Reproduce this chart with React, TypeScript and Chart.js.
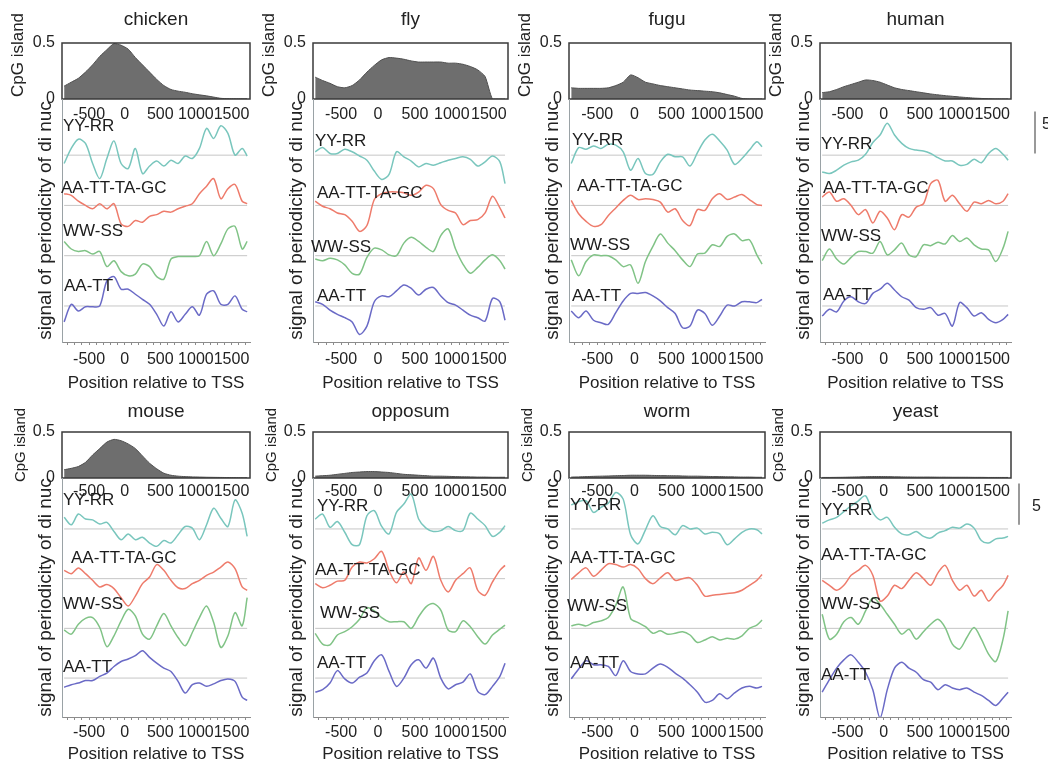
import React, { useEffect, useRef } from "react";
import { Chart, registerables } from "chart.js";

Chart.register(...registerables);

// ---------------- DATA ----------------
const POSITIONS = [-850, -750, -650, -550, -450, -350, -250, -150, -50, 50, 150, 250, 350, 450, 550, 650, 750, 850, 950, 1050, 1150, 1250, 1350, 1450, 1550, 1650, 1720];
const X_TICK_LABELS = [-500, 0, 500, 1000, 1500];
const CPG_TICKS = [0, 0.5];
const SERIES_NAMES = ["YY-RR", "AA-TT-TA-GC", "WW-SS", "AA-TT"];
const SERIES_OFFSETS = [18, 12, 6, 0];
const SPECIES = ["chicken", "fly", "fugu", "human", "mouse", "opposum", "worm", "yeast"];

const CPG_CHICKEN = [0.115, 0.15, 0.185, 0.24, 0.305, 0.38, 0.44, 0.495, 0.48, 0.445, 0.37, 0.305, 0.24, 0.175, 0.12, 0.085, 0.07, 0.06, 0.047, 0.037, 0.028, 0.017, 0.006, 0.003, 0.002, 0.002, 0.002];
const CPG_FLY = [0.195, 0.165, 0.14, 0.11, 0.1, 0.12, 0.17, 0.24, 0.3, 0.35, 0.37, 0.365, 0.355, 0.34, 0.33, 0.33, 0.33, 0.33, 0.32, 0.32, 0.31, 0.29, 0.26, 0.2, 0, 0, 0];
const CPG_FUGU = [0.1, 0.095, 0.095, 0.095, 0.095, 0.1, 0.12, 0.15, 0.215, 0.19, 0.15, 0.135, 0.12, 0.11, 0.1, 0.09, 0.08, 0.075, 0.07, 0.065, 0.055, 0.04, 0.025, 0.005, 0, 0, 0];
const CPG_HUMAN = [0.057, 0.065, 0.085, 0.11, 0.13, 0.15, 0.17, 0.165, 0.15, 0.125, 0.1, 0.085, 0.075, 0.065, 0.055, 0.045, 0.037, 0.03, 0.024, 0.018, 0.013, 0.008, 0.005, 0.002, 0, 0, 0];
const CPG_MOUSE = [0.09, 0.105, 0.125, 0.17, 0.25, 0.32, 0.39, 0.42, 0.405, 0.37, 0.32, 0.24, 0.16, 0.1, 0.052, 0.03, 0.02, 0.015, 0.012, 0.01, 0.008, 0.007, 0.006, 0.005, 0.004, 0.003, 0.003];
const CPG_OPPOSUM = [0.02, 0.025, 0.03, 0.04, 0.05, 0.06, 0.065, 0.07, 0.07, 0.065, 0.06, 0.05, 0.04, 0.035, 0.03, 0.025, 0.02, 0.02, 0.018, 0.015, 0.013, 0.012, 0.01, 0.01, 0.008, 0.008, 0.008];
const CPG_WORM = [0.01, 0.012, 0.015, 0.018, 0.02, 0.022, 0.025, 0.027, 0.03, 0.03, 0.03, 0.028, 0.026, 0.025, 0.024, 0.022, 0.02, 0.02, 0.018, 0.016, 0.015, 0.013, 0.012, 0.01, 0.01, 0.008, 0.008];
const CPG_YEAST = [0.006, 0.006, 0.007, 0.008, 0.01, 0.012, 0.014, 0.016, 0.016, 0.015, 0.013, 0.012, 0.011, 0.01, 0.01, 0.01, 0.009, 0.009, 0.008, 0.008, 0.008, 0.007, 0.007, 0.006, 0.006, 0.006, 0.006];

const CHICKEN_YYRR = [-1.0, 0.8, 1.9, 1.4, -1.0, -2.8, -0.4, 1.7, -1.0, -1.6, 0.8, -2.2, -1.3, -0.7, -1.3, -0.6, -1.0, -0.1, -0.4, 0.8, 3.2, 2.0, 3.5, 2.6, 0, 0.8, -0.1];
const CHICKEN_AATTTAGC = [1.4, 1.2, 0.5, 0, -0.4, 0.2, -0.4, 0.2, -2.2, -2.5, -1.8, -2.0, -1.3, -1.1, -0.7, -0.8, -0.4, -0.1, 0.2, 1.4, 2.3, 3.2, 0.8, 2.0, 2.5, 0.5, 0.2];
const CHICKEN_WWSS = [1.7, 0.8, 0.5, 0.6, 0.2, 0.5, -1.3, -0.6, -1.9, -2.4, -2.2, -1.0, -1.3, -2.5, -2.8, -0.4, -0.1, -0.1, -0.1, 0, 1.7, 0, 1.4, 3.2, 3.5, 0.8, 1.7];
const CHICKEN_AATT = [-1.9, 0.2, -0.6, -0.1, -0.1, 0, 3.0, 3.5, 2.0, 2.0, 1.4, 0.8, 0.2, -1.0, -2.4, -0.7, -1.9, -1.0, -0.1, -1.1, 1.4, 1.8, 0.2, 0.2, 1.2, -0.4, -0.7];

const FLY_YYRR = [0.4, 0.9, 0.2, 0.2, 0.7, 0.4, -0.1, -0.6, -1.9, -2.9, -2.3, 0.4, -0.2, -0.7, -1.4, -1.0, -1.2, -0.9, -0.6, -0.4, -0.2, -0.5, -1.3, -0.8, -0.1, -0.8, -3.4];
const FLY_AATTTAGC = [0.5, -0.1, -0.4, -0.9, -1.1, -1.9, -3.1, -2.4, 0.7, 1.4, 1.6, 1.6, 1.5, 1.2, 1.6, 2.4, 2.0, 0.1, -0.6, -0.9, -2.3, -1.8, -1.7, -0.9, 1.1, -0.3, -1.5];
const FLY_WWSS = [-0.4, -0.6, -0.3, -0.5, -1.1, -2.1, -2.2, -0.2, 0.9, 0.7, 0.1, 0, 1.5, 2.2, 1.7, 1.0, 0.5, 2.4, 3.2, 0.8, -1.0, -2.1, -1.4, -0.5, 0.1, -0.6, -1.6];
const FLY_AATT = [0.5, 0.2, -0.5, -1.0, -1.4, -1.9, -3.4, -2.4, 0.5, 1.2, 1.1, 1.8, 2.5, 2.1, 1.3, 2.0, 2.2, 1.2, 0.4, 0.1, -0.5, -1.1, -1.4, -1.8, 0.9, 0.5, -1.7];

const FUGU_YYRR = [-1.0, 0.9, 0.7, 1.1, 0.8, 1.3, 1.2, 0.4, -1.8, -0.4, -2.2, -2.3, -0.8, 0.1, -0.2, -0.2, -1.3, 0.3, 1.8, 2.5, 1.7, 0.6, -1.1, -0.4, 0.6, 1.6, 1.0];
const FUGU_AATTTAGC = [0.6, -1.0, -1.9, -2.5, -2.3, -1.2, -0.3, 0.6, 1.2, 0.7, 0.8, 0.7, 0.4, -0.8, -0.4, -1.8, -2.4, -0.5, -0.6, 0.8, 1.4, 0.7, 1.0, 1.3, 0.7, 0.1, 0];
const FUGU_WWSS = [-0.5, -2.4, -0.7, 0.1, 0, 0, -0.5, -1.3, -1.1, -3.3, -0.7, 1.1, 2.6, 1.5, 0.6, -0.5, -1.3, 0.2, 0.3, 1.3, 1.1, 2.3, 2.6, 1.8, 1.9, 0.1, -1.0];
const FUGU_AATT = [-0.6, -1.4, -0.6, -1.7, -2.0, -2.2, -0.8, 0.6, 1.5, 1.5, 1.6, 1.2, 0.6, -0.2, -0.9, -2.6, -2.4, -0.5, -0.9, -2.3, -1.2, 0.1, 0, 0.5, 0.5, 0.4, 0.8];

const HUMAN_YYRR = [-2.0, -2.2, -1.8, -1.2, -0.8, -0.6, 0.1, 1.5, 2.4, 3.8, 2.4, 1.4, 0.8, 0.6, 0.5, 0.2, -0.3, -0.7, -0.7, -1.2, -1.1, -0.5, -0.9, 0.2, 0.8, 0.1, -0.6];
const HUMAN_AATTTAGC = [1.0, 1.6, 0.5, 0.8, 0, -1.1, -0.5, -2.1, -0.7, -1.5, -2.9, -1.1, -1.4, -0.2, 0.2, 2.6, 3.0, 0.5, 1.2, 0.2, -0.7, 0.4, 0.2, 0.6, 0.2, 0.5, 1.4];
const HUMAN_WWSS = [-0.6, 0.8, -0.4, -1.0, -0.2, 0.5, 0.5, 0.3, 1.7, 0.1, 0.7, 1.5, 0.1, -0.1, 1.3, 1.2, 1.6, 1.4, 2.4, 1.7, 2.1, 1.3, 0.8, 0.7, -0.7, 0.9, 2.9];
const HUMAN_AATT = [-1.2, -0.4, -0.7, 0.6, 1.1, 0.5, 0.3, 1.5, 2.0, 2.7, 1.9, 1.1, 0.7, -0.2, -0.4, -0.2, -1.1, -0.9, -2.4, 0.4, -0.2, -1.2, -0.8, -1.6, -2.0, -1.6, -1.0];

const MOUSE_YYRR = [1.4, 0.5, 1.8, 1.2, 1.1, 0.6, 0.8, -0.3, -1.3, -0.6, -1.3, -1.0, -1.7, -2.1, -1.4, -1.7, -0.7, 0.3, 0.1, -1.3, 0.5, 2.5, 1.3, 0.3, 3.5, 1.9, -0.9];
const MOUSE_AATTTAGC = [1.0, 0.6, 1.3, 0.6, -0.2, -1.0, -0.7, -1.2, -2.3, -3.3, -2.1, -0.6, 0.2, 1.7, 1.0, -0.2, -1.1, -1.2, -0.6, -0.2, 0.4, 0.8, 1.4, 2.0, 1.2, -1.0, -1.4];
const MOUSE_WWSS = [-0.2, -0.7, 0.5, 1.2, 1.3, 0.1, -2.2, -0.9, 0.9, 2.3, 1.5, -0.7, -1.3, 0.3, 1.8, 0.3, -1.1, -2.1, -0.5, 1.3, 2.7, 0.7, -2.3, -0.9, 1.9, 0.3, 3.7];
const MOUSE_AATT = [-1.1, -0.8, -0.6, -0.3, -0.3, 0.2, 0.6, 1.4, 2.0, 2.3, 2.7, 3.3, 2.5, 1.8, 1.2, 0.8, -0.4, -1.8, -0.8, -0.6, -1.0, -0.7, -0.3, -0.1, -0.4, -2.3, -2.7];

const OPPOSUM_YYRR = [1.2, 1.8, 0.2, 0.9, -0.4, -1.9, -1.9, 1.6, 2.2, 0.3, -0.6, 2.0, 3.0, 4.2, 1.2, 0.1, -0.3, -0.2, 0.3, -0.2, -0.2, 1.9, 1.2, 0.4, -0.9, -0.4, 0.4];
const OPPOSUM_AATTTAGC = [-0.6, -1.1, -0.8, -0.3, -0.2, 1.4, 2.0, 1.9, 2.4, 3.3, 1.0, -0.5, 0.8, -0.6, 2.5, 1.0, 2.7, -0.2, -1.6, -0.2, 0.6, 1.3, -1.4, -2.0, -0.4, 1.0, 1.6];
const OPPOSUM_WWSS = [-0.6, -1.9, -2.0, -0.8, -0.4, 0.2, 1.1, 2.5, 2.1, 1.3, 0.8, 0.8, 0.8, 0, 1.4, 2.6, 3.0, 2.2, -0.2, -0.4, 0.9, 0.2, -1.0, -1.9, -0.8, -0.1, 0.4];
const OPPOSUM_AATT = [-1.7, -1.4, -0.6, 0.9, -0.1, -0.6, 0.1, 0.6, 2.1, 2.8, 0.8, -1.0, 0, 1.6, 2.2, 1.2, 2.4, 0, -1.3, -0.8, -0.5, 0.5, -1.6, -2.0, -1.0, 0.2, 1.8];

const WORM_YYRR = [2.9, 3.3, 3.4, 2.0, 2.6, 3.1, 4.4, 3.6, -0.7, -1.8, -0.1, 1.6, 0.3, 0, -0.7, 0.4, 0, 0.1, -0.6, -0.4, -0.6, -1.9, -1.2, -0.4, 0, -0.1, -0.6];
const WORM_AATTTAGC = [-0.1, 0.7, 1.3, 0.3, 1.0, 1.8, 1.7, 1.4, 1.7, 1.2, 0, -0.6, 0.1, 0.7, -0.2, 0, 0.1, -0.8, -2.1, -2.0, -1.9, -1.8, -1.7, -1.4, -0.8, -0.2, 0.5];
const WORM_WWSS = [0.3, 0.5, 0.3, 0.7, 0.9, 1.3, 2.8, 5.0, 1.2, 0.7, 0.2, -0.6, -0.3, -0.7, -0.6, -0.4, -0.8, -1.7, -1.4, -1.0, -1.4, -1.2, -1.3, -0.9, 0, 0.4, 1.0];
const WORM_AATT = [-0.1, 1.1, 2.1, 1.6, 1.6, 1.4, 0.3, 2.1, 0.8, 0.5, 0.5, 1.2, 1.7, 1.3, 0.6, 0, -0.8, -1.7, -2.9, -2.7, -1.9, -2.5, -1.8, -1.2, -1.0, -1.2, -1.0];

const YEAST_YYRR = [0.7, 1.1, 1.4, 2.1, 2.8, 3.4, 4.0, 2.0, 1.1, 1.4, 0.2, -0.6, -0.7, -0.3, -0.9, -1.1, -0.5, -0.2, 0.2, 0.1, 0.6, 0.1, -1.4, -1.7, -1.2, -1.1, -0.9];
const YEAST_AATTTAGC = [-0.2, -0.8, -1.4, -0.8, 0.4, 1.0, 1.6, 0.4, -2.7, -2.1, -0.8, -1.2, -0.2, 0.7, 0, -0.8, 0.7, 1.6, -0.2, -1.4, -0.8, -2.1, -1.4, -2.7, -1.7, -0.8, 0.4];
const YEAST_WWSS = [1.7, -1.3, -0.7, 0.8, 1.3, 0.5, 2.1, 3.7, 2.9, 1.7, 0.5, -0.7, -0.1, -1.3, -0.4, 0.5, 1.1, 0.1, -1.9, -2.5, -1.1, 0.1, -1.3, -3.1, -4.0, -1.3, 2.1];
const YEAST_AATT = [-1.7, -0.2, 1.2, 2.2, 2.8, 1.9, 0.7, -1.4, -4.8, -1.4, 1.2, 1.9, 1.2, 0.7, -0.2, -0.5, -1.4, -0.8, -1.2, -1.4, -1.2, -1.7, -2.1, -2.7, -3.3, -2.4, -1.7];

const CPG_BY_SPECIES = [CPG_CHICKEN, CPG_FLY, CPG_FUGU, CPG_HUMAN, CPG_MOUSE, CPG_OPPOSUM, CPG_WORM, CPG_YEAST];
const SIGNALS_BY_SPECIES = [
  [CHICKEN_YYRR, CHICKEN_AATTTAGC, CHICKEN_WWSS, CHICKEN_AATT],
  [FLY_YYRR, FLY_AATTTAGC, FLY_WWSS, FLY_AATT],
  [FUGU_YYRR, FUGU_AATTTAGC, FUGU_WWSS, FUGU_AATT],
  [HUMAN_YYRR, HUMAN_AATTTAGC, HUMAN_WWSS, HUMAN_AATT],
  [MOUSE_YYRR, MOUSE_AATTTAGC, MOUSE_WWSS, MOUSE_AATT],
  [OPPOSUM_YYRR, OPPOSUM_AATTTAGC, OPPOSUM_WWSS, OPPOSUM_AATT],
  [WORM_YYRR, WORM_AATTTAGC, WORM_WWSS, WORM_AATT],
  [YEAST_YYRR, YEAST_AATTTAGC, YEAST_WWSS, YEAST_AATT],
];
const SCALE_BAR_SIZE = 5;
const CPG_AXIS_TITLE = "CpG island";
const SIGNAL_AXIS_TITLE = "signal of periodicity of di nuc";
const X_AXIS_TITLE = "Position relative to TSS";

// ---------------- LAYOUT / STYLE ----------------
const FONT = '"Liberation Sans", Arial, Helvetica, sans-serif';
const TEXT = "#222";
const X_MIN = -880;
const X_MAX = 1760;
const MINOR_TICKS = Array.from({ length: 26 }, (_, i) => -800 + 100 * i);
const SERIES_COLORS = ["#79c6bd", "#ee7b6b", "#80c386", "#6a6ac6"];
const COL_LEFT = [62, 313, 569, 820];
const COL_WIDTH = [188, 195, 196, 191];
const Y_AXIS_W = 62;
const TOP_XAXIS_H = 30;
const ROWS = [
  { canvasTop: 0, titlePadTop: 8.6, titlePadBottom: 11.6, boxBottom: 99, topTickPad: 6.4, plotBottom: 342, yMin: -4.3, yMax: 24.7, bottomTickPad: 5.4, xAxisH: 54, xTitlePadBottom: 2, cpgDx: -44, cpgDy: -16, cpgSize: 17 },
  { canvasTop: 389, titlePadTop: 11.6, titlePadBottom: 8.6, boxBottom: 478, topTickPad: 4.4, plotBottom: 717, yMin: -4.7, yMax: 24.15, bottomTickPad: 3.4, xAxisH: 48, xTitlePadBottom: 0, cpgDx: -41, cpgDy: -10, cpgSize: 15 },
];
const LABEL_RISE = [
  [3.5, 2.0, 2.9, 2.3],
  [1.6, 1.4, 1.0, 1.1],
  [1.8, 2.3, 1.2, 1.1],
  [1.3, 2.0, 2.3, 1.3],
  [3.5, 2.5, 2.9, 1.3],
  [2.7, 1.0, 1.8, 1.8],
  [2.8, 2.5, 2.7, 1.8],
  [2.2, 2.8, 2.9, 0.3],
];
const LABEL_DX = [
  [0, -2, 0, 1],
  [1, 3, -3, 3],
  [2, 7, 0, 2],
  [0, 2, 0, 2],
  [0, 8, 0, 0],
  [3, 1, 6, 3],
  [0, 0, -3, 0],
  [0, 0, 0, 0],
];
const SCALE_BARS: Record<number, { dx: number; base: number; labelDx: number; labelDy: number }> = {
  3: { dx: 24, base: 18.2, labelDx: 7, labelDy: -8 },
  7: { dx: 8, base: 18.5, labelDx: 13, labelDy: 2 },
};

Chart.defaults.font.family = FONT;
Chart.defaults.color = TEXT;

function framePlugin(idx: number) {
  return {
    id: "frame",
    afterDraw(chart: any) {
      const row = ROWS[Math.floor(idx / 4)];
      const { ctx, chartArea } = chart;
      ctx.save();
      ctx.strokeStyle = "#3a3a3a";
      ctx.lineWidth = 1.5;
      ctx.strokeRect(chartArea.left, chartArea.top, chartArea.width, chartArea.height);
      ctx.translate(chartArea.left + row.cpgDx, (chartArea.top + chartArea.bottom) / 2 + row.cpgDy);
      ctx.rotate(-Math.PI / 2);
      ctx.font = `${row.cpgSize}px ${FONT}`;
      ctx.fillStyle = TEXT;
      ctx.textAlign = "center";
      ctx.textBaseline = "middle";
      ctx.fillText(CPG_AXIS_TITLE, 0, 0);
      ctx.restore();
    },
  };
}

function labelPlugin(idx: number) {
  return {
    id: "seriesLabels",
    afterDatasetsDraw(chart: any) {
      const { ctx, chartArea, scales } = chart;
      ctx.save();
      ctx.font = `17px ${FONT}`;
      ctx.fillStyle = "#1c1c1c";
      ctx.textBaseline = "middle";
      ctx.textAlign = "left";
      SERIES_NAMES.forEach((name, i) => {
        const y = scales.y.getPixelForValue(SERIES_OFFSETS[i] + LABEL_RISE[idx][i]);
        ctx.fillText(name, chartArea.left + 1 + LABEL_DX[idx][i], y);
      });
      ctx.restore();
    },
  };
}

function scaleBarPlugin(idx: number) {
  return {
    id: "scaleBar",
    afterDraw(chart: any) {
      const bar = SCALE_BARS[idx];
      if (!bar) return;
      const { ctx, chartArea, scales } = chart;
      const x = chartArea.right + bar.dx;
      const y0 = scales.y.getPixelForValue(bar.base);
      const y1 = scales.y.getPixelForValue(bar.base + SCALE_BAR_SIZE);
      ctx.save();
      ctx.strokeStyle = "#777";
      ctx.lineWidth = 1.5;
      ctx.beginPath();
      ctx.moveTo(x, y0);
      ctx.lineTo(x, y1);
      ctx.stroke();
      ctx.font = `16px ${FONT}`;
      ctx.fillStyle = TEXT;
      ctx.textBaseline = "middle";
      ctx.fillText(String(SCALE_BAR_SIZE), x + bar.labelDx, (y0 + y1) / 2 + bar.labelDy);
      ctx.restore();
    },
  };
}

function geometry(idx: number) {
  const row = ROWS[Math.floor(idx / 4)];
  const col = idx % 4;
  const rightExtra = col === 3 ? 1048 - (COL_LEFT[col] + COL_WIDTH[col]) : 12;
  const left = COL_LEFT[col] - Y_AXIS_W;
  const width = Y_AXIS_W + COL_WIDTH[col] + rightExtra;
  const top = { left, top: row.canvasTop, width, height: row.boxBottom - row.canvasTop + TOP_XAXIS_H };
  const bottom = { left, top: row.boxBottom - 10, width, height: 10 + (row.plotBottom - row.boxBottom) + row.xAxisH };
  return { row, col, rightExtra, top, bottom };
}

function makeTop(canvas: HTMLCanvasElement, idx: number) {
  const { row, rightExtra } = geometry(idx);
  const cpg = CPG_BY_SPECIES[idx];
  return new Chart(canvas, {
    type: "line",
    data: {
      datasets: [
        {
          data: POSITIONS.map((x, i) => ({ x, y: cpg[i] })),
          fill: "origin",
          backgroundColor: "#6e6e6e",
          borderColor: "#4f4f4f",
          borderWidth: 1,
          pointRadius: 0,
          tension: 0.2,
        },
      ],
    },
    options: {
      responsive: false,
      animation: false,
      events: [],
      layout: { padding: { left: 0, right: rightExtra, top: 0, bottom: 0 } },
      plugins: {
        legend: { display: false },
        tooltip: { enabled: false },
        title: {
          display: true,
          text: SPECIES[idx],
          fullSize: false,
          color: TEXT,
          font: { size: 19, weight: "normal" },
          padding: { top: row.titlePadTop, bottom: row.titlePadBottom },
        },
      },
      scales: {
        x: {
          type: "linear",
          min: X_MIN,
          max: X_MAX,
          grid: { display: false, drawTicks: false },
          border: { display: false },
          afterBuildTicks: (s: any) => {
            s.ticks = X_TICK_LABELS.map((v) => ({ value: v }));
          },
          ticks: { font: { size: 16 }, color: TEXT, padding: row.topTickPad, autoSkip: false, maxRotation: 0, callback: (v: any) => String(v) },
          afterFit: (s: any) => {
            s.height = TOP_XAXIS_H;
          },
        },
        y: {
          type: "linear",
          min: 0,
          max: 0.5,
          grid: { display: false, drawTicks: false },
          border: { display: false },
          afterBuildTicks: (s: any) => {
            s.ticks = CPG_TICKS.map((v) => ({ value: v }));
          },
          ticks: { font: { size: 16 }, color: TEXT, padding: 7, callback: (v: any) => String(v) },
          afterFit: (s: any) => {
            s.width = Y_AXIS_W;
          },
        },
      },
    } as any,
    plugins: [framePlugin(idx)],
  });
}

function makeBottom(canvas: HTMLCanvasElement, idx: number) {
  const { row, rightExtra } = geometry(idx);
  const signals = SIGNALS_BY_SPECIES[idx];
  const first = POSITIONS[0];
  const last = POSITIONS[POSITIONS.length - 1];
  const signalSets = SERIES_NAMES.map((name, i) => ({
    label: name,
    data: POSITIONS.map((x, j) => ({ x, y: SERIES_OFFSETS[i] + signals[i][j] })),
    borderColor: SERIES_COLORS[i],
    borderWidth: 1.5,
    pointRadius: 0,
    tension: 0.3,
    fill: false,
  }));
  const baselineSets = SERIES_OFFSETS.map((o) => ({
    label: "baseline",
    data: [
      { x: first, y: o },
      { x: last, y: o },
    ],
    borderColor: "#c6c6c6",
    borderWidth: 1,
    pointRadius: 0,
    fill: false,
  }));
  return new Chart(canvas, {
    type: "line",
    data: { datasets: [...signalSets, ...baselineSets] },
    options: {
      responsive: false,
      animation: false,
      events: [],
      layout: { padding: { left: 0, right: rightExtra, top: 10, bottom: 0 } },
      plugins: { legend: { display: false }, tooltip: { enabled: false }, title: { display: false } },
      scales: {
        x: {
          type: "linear",
          min: X_MIN,
          max: X_MAX,
          grid: { display: true, drawOnChartArea: false, drawTicks: true, tickLength: 3, color: "#8c8c8c" },
          border: { display: true, color: "#8c8c8c", width: 1 },
          afterBuildTicks: (s: any) => {
            s.ticks = MINOR_TICKS.map((v) => ({ value: v }));
          },
          ticks: {
            font: { size: 16 },
            color: TEXT,
            padding: row.bottomTickPad,
            autoSkip: false,
            maxRotation: 0,
            callback: (v: any) => (X_TICK_LABELS.includes(v) ? String(v) : ""),
          },
          title: { display: true, text: X_AXIS_TITLE, color: TEXT, font: { size: 17 }, padding: { top: 0, bottom: row.xTitlePadBottom } },
          afterFit: (s: any) => {
            s.height = row.xAxisH;
          },
        },
        y: {
          type: "linear",
          min: row.yMin,
          max: row.yMax,
          grid: { display: false, drawTicks: false },
          border: { display: true, color: "#9aa2a6", width: 1 },
          ticks: { display: false },
          title: { display: true, text: SIGNAL_AXIS_TITLE, color: TEXT, font: { size: 19 }, padding: { top: 34.6, bottom: 0 } },
          afterFit: (s: any) => {
            s.width = Y_AXIS_W;
          },
        },
      },
    } as any,
    plugins: [labelPlugin(idx), scaleBarPlugin(idx)],
  });
}

function Panel({ idx }: { idx: number }) {
  const topRef = useRef<HTMLCanvasElement | null>(null);
  const botRef = useRef<HTMLCanvasElement | null>(null);
  const g = geometry(idx);
  useEffect(() => {
    const charts = [makeTop(topRef.current as HTMLCanvasElement, idx), makeBottom(botRef.current as HTMLCanvasElement, idx)];
    return () => charts.forEach((c) => c.destroy());
  }, [idx]);
  const style = (b: any) => ({ position: "absolute" as const, left: b.left, top: b.top, width: b.width, height: b.height });
  return (
    <>
      <canvas ref={topRef} width={g.top.width} height={g.top.height} style={style(g.top)} />
      <canvas ref={botRef} width={g.bottom.width} height={g.bottom.height} style={style(g.bottom)} />
    </>
  );
}

export default function App() {
  return (
    <div style={{ position: "fixed", left: 0, top: 0, width: 1048, height: 766, overflow: "hidden", background: "#fff" }}>
      {SPECIES.map((_, i) => (
        <Panel key={i} idx={i} />
      ))}
    </div>
  );
}
